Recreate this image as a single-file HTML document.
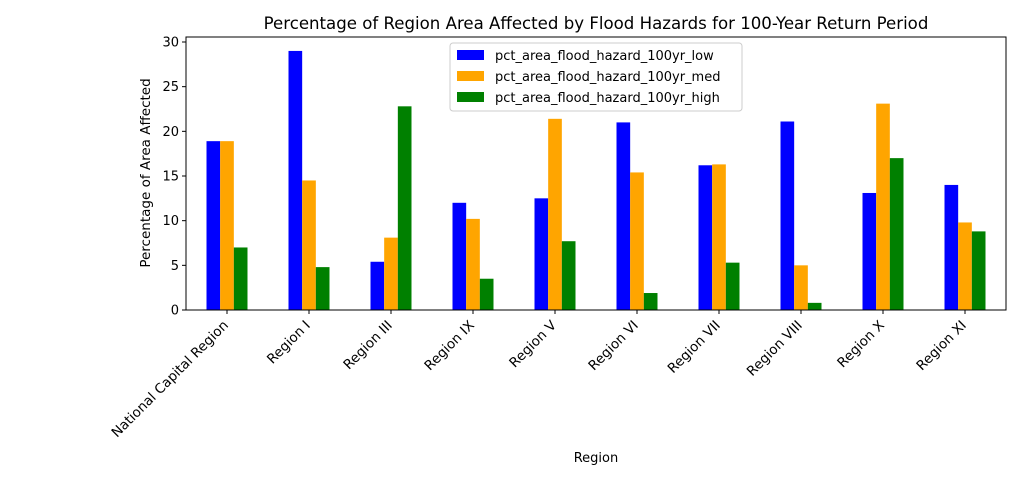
<!DOCTYPE html>
<html><head><meta charset="utf-8"><style>
body{margin:0;background:#fff;font-family:"Liberation Sans","DejaVu Sans",sans-serif}
svg text{font-family:"DejaVu Sans","Liberation Sans",sans-serif;fill:#000}
</style></head><body>
<svg id="chart" width="1030" height="480">
<text x="596" y="29" font-size="16.6" text-anchor="middle">Percentage of Region Area Affected by Flood Hazards for 100-Year Return Period</text>
<g id="bars"></g>
<g id="axes"></g>
<rect x="186" y="37" width="820" height="273" fill="none" stroke="#000" stroke-width="1"/>
<text x="596" y="462" font-size="13" text-anchor="middle">Region</text>
<text transform="translate(150,173) rotate(-90)" font-size="13.5" text-anchor="middle">Percentage of Area Affected</text>
<g>
<rect x="450" y="43" width="292" height="68" fill="#fff" fill-opacity="0.8" stroke="#ccc" rx="3"/>
<g><rect x="457" y="50" width="27" height="10" fill="#0000ff"/><text x="495" y="60" font-size="13">pct_area_flood_hazard_100yr_low</text></g>
<g><rect x="457" y="71" width="27" height="10" fill="#ffa500"/><text x="495" y="81" font-size="13">pct_area_flood_hazard_100yr_med</text></g>
<g><rect x="457" y="92" width="27" height="10" fill="#008000"/><text x="495" y="102" font-size="13">pct_area_flood_hazard_100yr_high</text></g>
</g>
</svg>
<script>
const categories=["National Capital Region","Region I","Region III","Region IX","Region V","Region VI","Region VII","Region VIII","Region X","Region XI"];
const lowValues=[18.9,29.0,5.4,12.0,12.5,21.0,16.2,21.1,13.1,14.0];
const medValues=[18.9,14.5,8.1,10.2,21.4,15.4,16.3,5.0,23.1,9.8];
const highValues=[7.0,4.8,22.8,3.5,7.7,1.9,5.3,0.8,17.0,8.8];
const yTicks=[0,5,10,15,20,25,30];
const NS="http://www.w3.org/2000/svg";
const X0=186,W=820,Y0=310,PX=268/30;
const step=W/categories.length;
const xc=i=>X0+step/2+step*i;
const y=v=>Y0-v*PX;
const bw=step*0.5/3;
const bars=document.getElementById('bars'),axes=document.getElementById('axes');
function mk(t,a,p){const e=document.createElementNS(NS,t);for(const k in a)e.setAttribute(k,a[k]);p.appendChild(e);return e;}
const series=[[lowValues,"#0000ff","low"],[medValues,"#ffa500","med"],[highValues,"#008000","high"]];
series.forEach((s,si)=>{s[0].forEach((v,i)=>{
const r=mk('rect',{x:xc(i)-1.5*bw+si*bw,y:y(v),width:bw,height:v*PX,fill:s[1]},bars);


});});
yTicks.forEach(t=>{
mk('line',{x1:X0-4,x2:X0,y1:y(t),y2:y(t),stroke:'#000'},axes);
const tx=mk('text',{x:X0-7,y:y(t)+4.5,'font-size':13,'text-anchor':'end'},axes);tx.textContent=t;


});
categories.forEach((c,i)=>{
mk('line',{x1:xc(i),x2:xc(i),y1:Y0,y2:Y0+4,stroke:'#000'},axes);
const tx=mk('text',{transform:`translate(${xc(i)+2},${Y0+16}) rotate(-45)`,'font-size':13.5,'text-anchor':'end'},axes);tx.textContent=c;


});
</script>
</body></html>
